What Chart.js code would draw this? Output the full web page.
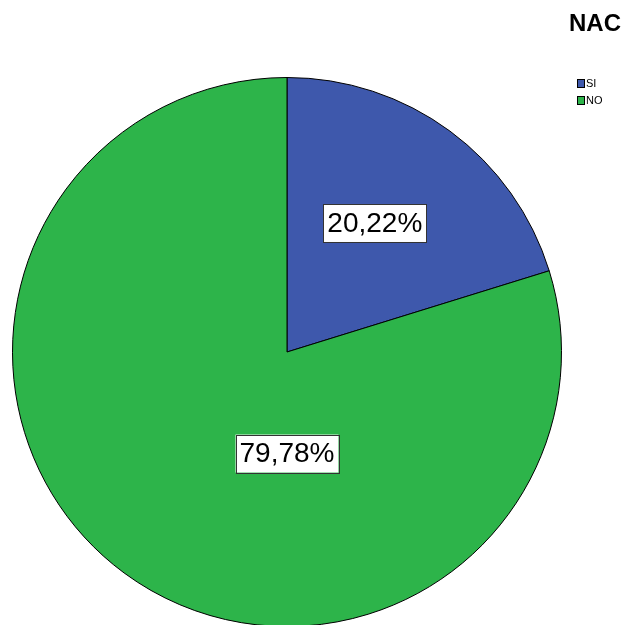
<!DOCTYPE html>
<html>
<head>
<meta charset="utf-8">
<script src="https://cdn.jsdelivr.net/npm/chart.js@4"></script>
<style>
  html, body { margin: 0; padding: 0; background: #fff; overflow: hidden; }
  #wrap { width: 622px; height: 640px; position: relative; }
</style>
</head>
<body>
<div id="wrap"><canvas id="pie"></canvas></div>
<script>
const title = "NAC";
const categories = ["SI", "NO"];
const percents = [20.22, 79.78];
const colors = ["#3e58ac", "#2db44a"];
// where each percentage box sits, as a fraction of the radius from the centre
const labelOffsets = [[0.32, -0.47], [0.0, 0.37]];

const fmt = v => v.toFixed(2).replace(".", ",") + "%";

const decor = {
  id: "decor",
  afterDatasetsDraw(chart) {
    const ctx = chart.ctx;
    const arcs = chart.getDatasetMeta(0).data;
    ctx.save();
    // boxed percentage labels
    ctx.font = "28px 'Liberation Sans', Arial, sans-serif";
    ctx.textAlign = "center";
    ctx.textBaseline = "middle";
    arcs.forEach((arc, i) => {
      const r = arc.outerRadius;
      const cx = arc.x + labelOffsets[i][0] * r;
      const cy = arc.y + labelOffsets[i][1] * r;
      const txt = fmt(percents[i]);
      const w = ctx.measureText(txt).width + 8;
      const h = 38;
      ctx.fillStyle = "#fff";
      ctx.fillRect(cx - w / 2, cy - h / 2, w, h);
      ctx.strokeStyle = "#333";
      ctx.lineWidth = 1;
      ctx.strokeRect(Math.round(cx - w / 2) + 0.5, Math.round(cy - h / 2) + 0.5, Math.round(w), h);
      ctx.fillStyle = "#000";
      ctx.fillText(txt, cx, cy + 1);
    });
    // title
    ctx.font = "bold 24px 'Liberation Sans', Arial, sans-serif";
    ctx.textAlign = "right";
    ctx.textBaseline = "alphabetic";
    ctx.fillText(title, 621, 31);
    // legend
    ctx.font = "11px 'Liberation Sans', Arial, sans-serif";
    ctx.textAlign = "left";
    ctx.textBaseline = "middle";
    categories.forEach((c, i) => {
      const y = 79 + i * 17;
      ctx.fillStyle = colors[i];
      ctx.fillRect(577, y, 7, 8);
      ctx.strokeStyle = "#000";
      ctx.strokeRect(577.5, y + 0.5, 7, 8);
      ctx.fillStyle = "#000";
      ctx.fillText(c, 586, y + 5);
    });
    ctx.restore();
  }
};

new Chart(document.getElementById("pie"), {
  type: "pie",
  data: {
    labels: categories,
    datasets: [{
      data: percents,
      backgroundColor: colors,
      borderColor: "#000",
      borderWidth: 1
    }]
  },
  options: {
    responsive: true,
    maintainAspectRatio: false,
    animation: false,
    layout: { padding: { left: 12, right: 60, top: 77, bottom: 13 } },
    plugins: {
      legend: { display: false },
      tooltip: { enabled: false }
    }
  },
  plugins: [decor]
});
</script>
</body>
</html>
